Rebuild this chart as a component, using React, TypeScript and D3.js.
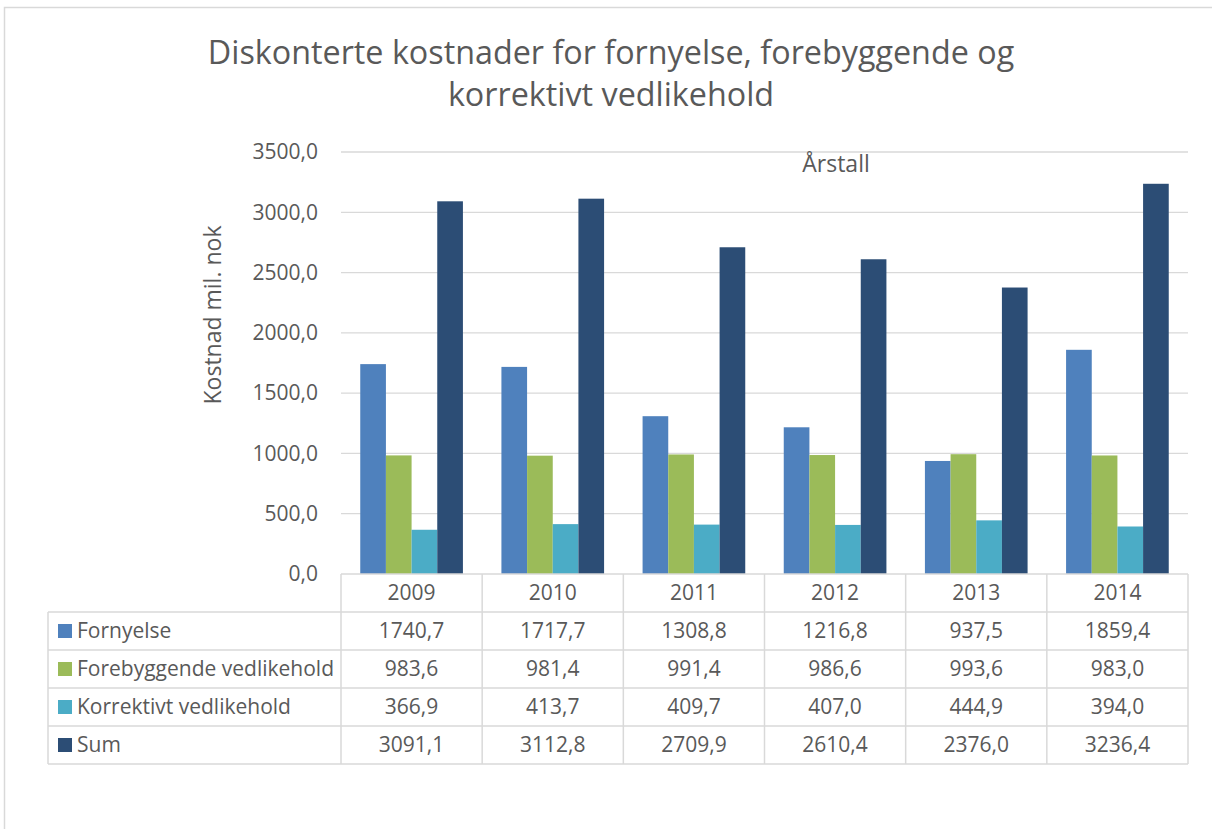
import React from "react";
import * as d3 from "d3";

const years = ["2009", "2010", "2011", "2012", "2013", "2014"];
const seriesNames = ["Fornyelse", "Forebyggende vedlikehold", "Korrektivt vedlikehold", "Sum"];
const fornyelse = [1740.7, 1717.7, 1308.8, 1216.8, 937.5, 1859.4];
const forebyggende = [983.6, 981.4, 991.4, 986.6, 993.6, 983.0];
const korrektivt = [366.9, 413.7, 409.7, 407.0, 444.9, 394.0];
const sum = [3091.1, 3112.8, 2709.9, 2610.4, 2376.0, 3236.4];
const colors = ["#4F81BD", "#9BBB59", "#4BACC6", "#2C4D75"];
const yTicks = [0, 500, 1000, 1500, 2000, 2500, 3000, 3500];

const seriesValues = [fornyelse, forebyggende, korrektivt, sum];

const FONT = "'Open Sans', 'Noto Sans', sans-serif";
const TXT = "#595959";
const GRID = "#D9D9D9";

export default function App() {
  const left = 341, right = 1188, top = 152, bottom = 574;
  const rowH = 38;
  const tableLeft = 48;
  const x0 = d3.scaleBand().domain(years).range([left, right]);
  const x1 = d3.scaleBand().domain(seriesNames).range([0, x0.bandwidth()]).paddingInner(0).paddingOuter(0.75);
  const y = d3.scaleLinear().domain([0, 3500]).range([bottom, top]);
  const fmt = (v: number) => v.toFixed(1).replace(".", ",");
  const lastRow = bottom + rowH * 5;
  const fs = 21;

  return (
    <svg width={1212} height={829} style={{ position: "absolute", left: 0, top: 0 }} fontFamily={FONT}>
      <rect x={0} y={0} width={1212} height={829} fill="#fff" />
      <path d={`M1230,7.5 H4.5 V850`} fill="none" stroke={GRID} strokeWidth={1.5} />
      <text x={611} y={64} textAnchor="middle" fontSize={32.3} fill={TXT}>
        Diskonterte kostnader for fornyelse, forebyggende og
      </text>
      <text x={611} y={106} textAnchor="middle" fontSize={32.3} fill={TXT}>
        korrektivt vedlikehold
      </text>
      {yTicks.map((t) => (
        <g key={t}>
          {t > 0 && <line x1={left} x2={right} y1={y(t)} y2={y(t)} stroke={GRID} strokeWidth={1.3} />}
          <text x={318} y={y(t)} dy="0.35em" textAnchor="end" fontSize={fs} fill={TXT}>
            {fmt(t)}
          </text>
        </g>
      ))}
      <text transform={`translate(221,315) rotate(-90)`} textAnchor="middle" fontSize={23} fill={TXT}>
        Kostnad mil. nok
      </text>
      <text x={836} y={172} textAnchor="middle" fontSize={23} fill={TXT}>
        Årstall
      </text>
      {years.map((yr, i) => (
        <g key={yr} transform={`translate(${x0(yr)},0)`}>
          {seriesNames.map((s, k) => {
            const v = seriesValues[k][i];
            return (
              <rect key={s} x={x1(s)} y={y(v)} width={x1.bandwidth()} height={y(0) - y(v)} fill={colors[k]} />
            );
          })}
        </g>
      ))}
      {/* data table */}
      <g stroke={GRID} strokeWidth={1.5}>
        <line x1={left} x2={right} y1={bottom} y2={bottom} />
        {[1, 2, 3, 4, 5].map((r) => (
          <line key={r} x1={tableLeft} x2={right} y1={bottom + r * rowH} y2={bottom + r * rowH} />
        ))}
        <line x1={tableLeft} x2={tableLeft} y1={bottom + rowH} y2={lastRow} />
        {[...years.map((yr) => x0(yr) as number), right].map((xv, i) => (
          <line key={i} x1={xv} x2={xv} y1={bottom} y2={lastRow} />
        ))}
      </g>
      {years.map((yr) => (
        <text key={yr} x={(x0(yr) as number) + x0.bandwidth() / 2} y={bottom + rowH / 2} dy="0.35em" textAnchor="middle" fontSize={fs} fill={TXT}>
          {yr}
        </text>
      ))}
      {seriesNames.map((s, k) => {
        const cy = bottom + rowH * (k + 1) + rowH / 2;
        return (
          <g key={s}>
            <rect x={58} y={cy - 7} width={14} height={14} fill={colors[k]} />
            <text x={77} y={cy} dy="0.35em" fontSize={fs} fill={TXT}>
              {s}
            </text>
            {years.map((yr, i) => (
              <text key={yr} x={(x0(yr) as number) + x0.bandwidth() / 2} y={cy} dy="0.35em" textAnchor="middle" fontSize={fs} fill={TXT}>
                {fmt(seriesValues[k][i])}
              </text>
            ))}
          </g>
        );
      })}
    </svg>
  );
}
